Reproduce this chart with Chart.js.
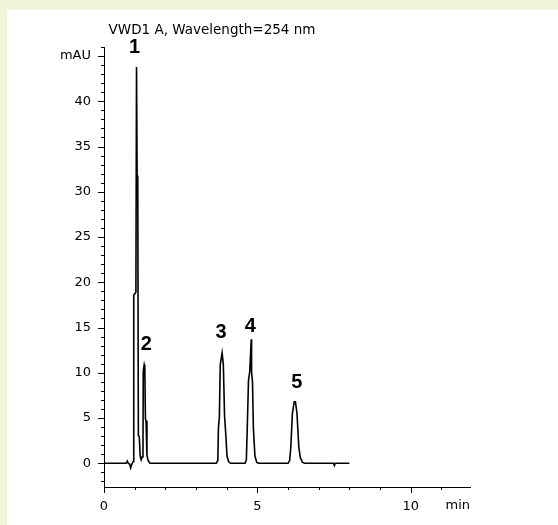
<!DOCTYPE html>
<html><head><meta charset="utf-8">
<script src="https://cdn.jsdelivr.net/npm/chart.js@4/dist/chart.umd.min.js"></script>
<style>
html,body{margin:0;padding:0;background:#eef5d9;}
#wrap{position:absolute;left:0;top:0;width:558px;height:525px;overflow:hidden;}
#panel{position:absolute;left:7px;top:10px;right:0;bottom:0;background:#fff;}
canvas{position:absolute;left:0;top:0;}
</style></head><body>
<div id="wrap"><div id="panel"></div><canvas id="c" width="558" height="525"></canvas></div>
<script>
const titleText = 'VWD1 A, Wavelength=254 nm';
const xUnit = 'min';
const yUnit = 'mAU';

const timeMin = [0.00,0.50,0.72,0.76,0.79,0.84,0.87,0.89,0.92,0.95,0.97,1.04,1.06,1.08,1.10,1.12,1.15,1.18,1.21,1.24,1.27,1.28,1.31,1.33,1.35,1.37,1.40,1.44,1.50,
  3.66,3.71,3.73,3.76,3.79,3.85,3.89,3.93,3.97,4.01,4.06,4.12,
  4.60,4.64,4.67,4.71,4.75,4.80,4.81,4.84,4.87,4.92,4.98,5.04,
  6.00,6.05,6.09,6.14,6.20,6.24,6.29,6.35,6.40,6.47,6.55,
  7.48,7.51,7.54,8.00];
const signal = [0,0,0,0.25,0,-0.1,-0.5,-0.3,0,0.2,18.6,18.9,43.8,31.8,31.6,3.1,2.9,0.8,0.4,0.7,1.0,10.2,10.9,10.6,4.9,4.7,0.9,0.3,0,
  0,0.3,3.9,5.1,10.9,12.2,10.9,5.2,3.2,0.8,0.2,0,
  0,0.4,3.9,9.2,10.1,13.7,10.1,9.0,3.8,0.8,0.1,0,
  0,0.3,1.8,5.5,6.8,6.8,5.5,1.8,0.6,0.1,0,
  0,-0.25,0,0];

const peakNames = ['1','2','3','4','5'];
const peakTimes = [1.06,1.31,3.85,4.80,6.22];

const xTickValues = [0,1,2,3,4,5,6,7,8,9,10,11];
const xLabelValues = [0,5,10];
const yTickValues = [-2,-1,0,1,2,3,4,5,6,7,8,9,10,11,12,13,14,15,16,17,18,19,20,21,22,23,24,25,26,27,28,29,30,31,32,33,34,35,36,37,38,39,40,41,42,43,44,45,46];
const yLabelValues = [0,5,10,15,20,25,30,35,40];
const yUnitTick = 45;

const FONT = 'DejaVu Sans';

const decor = {
  id: 'decor',
  afterDraw(chart, args, opts) {
    const ctx = chart.ctx, ca = chart.chartArea;
    const xs = chart.scales.x, ys = chart.scales.y;
    ctx.save();
    ctx.strokeStyle = '#000';
    ctx.lineWidth = 1;
    yTickValues.forEach(v => {
      const py = Math.round(ys.getPixelForValue(v)) + 0.5;
      const major = yLabelValues.includes(v) || v === yUnitTick;
      const len = major ? 6 : 3;
      ctx.beginPath(); ctx.moveTo(ca.left - len, py); ctx.lineTo(ca.left, py); ctx.stroke();
    });
    xTickValues.forEach(v => {
      const px = Math.round(xs.getPixelForValue(v)) + 0.5;
      const major = xLabelValues.includes(v);
      const len = major ? 6 : 3;
      ctx.beginPath(); ctx.moveTo(px, ca.bottom); ctx.lineTo(px, ca.bottom + len); ctx.stroke();
    });
    ctx.fillStyle = '#000';
    ctx.font = '13px "' + FONT + '"';
    ctx.textAlign = 'right'; ctx.textBaseline = 'middle';
    ctx.fillText(xUnit, ca.right, 506);
    ctx.font = '13.5px "' + FONT + '"';
    ctx.textAlign = 'center';
    ctx.fillText(titleText, 212, 30);
    ctx.font = 'bold 20px "Liberation Sans"';
    ctx.textAlign = 'center'; ctx.textBaseline = 'middle';
    peakNames.forEach((name, i) => {
      let best = -Infinity;
      timeMin.forEach((t, j) => { if (Math.abs(t - peakTimes[i]) < 0.1 && signal[j] > best) best = signal[j]; });
      const px = xs.getPixelForValue(peakTimes[i]) + opts.nudgeX[i];
      const py = ys.getPixelForValue(best) - opts.lift[i];
      ctx.fillText(name, px, py);
    });
    ctx.restore();
  }
};

new Chart(document.getElementById('c'), {
  type: 'line',
  data: {
    datasets: [{
      data: timeMin.map((t, i) => ({x: t, y: signal[i]})),
      borderColor: '#000',
      borderWidth: 1.6,
      pointRadius: 0,
      tension: 0,
      fill: false
    }]
  },
  options: {
    responsive: false,
    animation: false,
    devicePixelRatio: 1,
    layout: {padding: {top: 47, left: 0, right: 88, bottom: 0}},
    plugins: {
      legend: {display: false},
      tooltip: {enabled: false},
      decor: {nudgeX: [-2, 2, -1, -1, 2], lift: [19, 20, 20, 13, 19]}
    },
    scales: {
      x: {
        type: 'linear', min: 0, max: 11.93,
        afterBuildTicks: s => { s.ticks = xTickValues.map(v => ({value: v})); },
        afterFit: s => { s.height = 38; },
        grid: {display: false, drawTicks: false},
        border: {display: true, color: '#000', width: 1},
        ticks: {
          autoSkip: false, maxRotation: 0, padding: 12, color: '#000',
          font: {family: FONT, size: 13},
          callback: v => xLabelValues.includes(v) ? String(v) : ''
        }
      },
      y: {
        type: 'linear', min: -2.62, max: 46.0,
        afterBuildTicks: s => { s.ticks = yTickValues.map(v => ({value: v})); },
        afterFit: s => { s.width = 104; },
        grid: {display: false, drawTicks: false},
        border: {display: true, color: '#000', width: 1},
        ticks: {
          autoSkip: false, padding: 13, color: '#000',
          font: {family: FONT, size: 13},
          callback: v => v === yUnitTick ? yUnit : (yLabelValues.includes(v) ? String(v) : '')
        }
      }
    }
  },
  plugins: [decor]
});
</script>
</body></html>
